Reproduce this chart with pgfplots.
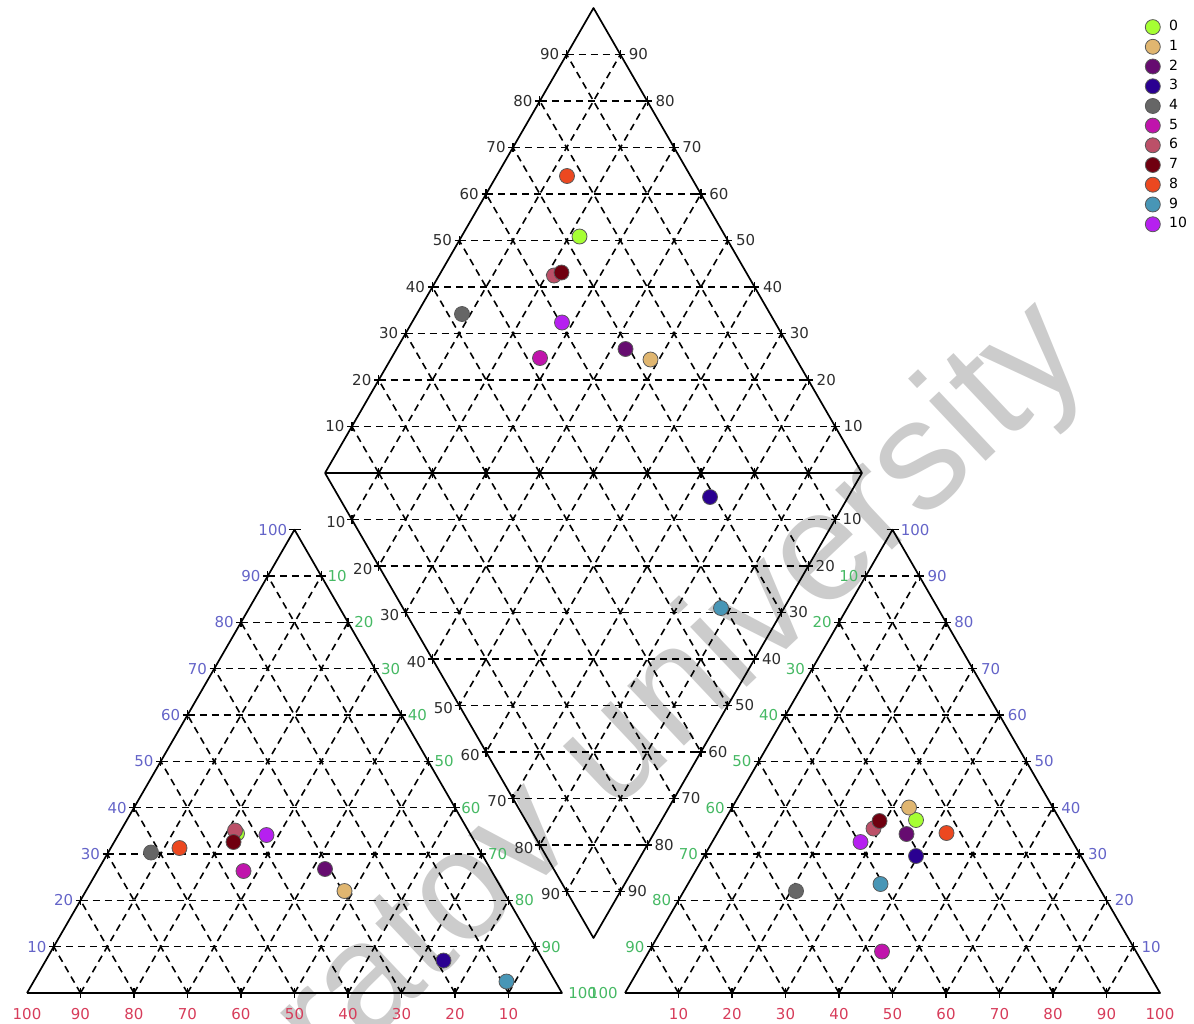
\documentclass[border=0pt]{standalone}
\usepackage{pgfplots}
\pgfplotsset{compat=1.18}
\usepackage{fontspec}
\setmainfont{DejaVu Sans}
\newfontfamily\wmfont{Liberation Sans}
\definecolor{c0}{RGB}{166,255,51}
\definecolor{c1}{RGB}{224,182,112}
\definecolor{c2}{RGB}{102,12,112}
\definecolor{c3}{RGB}{42,0,145}
\definecolor{c4}{RGB}{102,102,102}
\definecolor{c5}{RGB}{192,20,172}
\definecolor{c6}{RGB}{188,80,104}
\definecolor{c7}{RGB}{112,0,16}
\definecolor{c8}{RGB}{236,72,32}
\definecolor{c9}{RGB}{72,150,182}
\definecolor{c10}{RGB}{182,32,240}
\definecolor{lblue}{RGB}{100,100,200}
\definecolor{lred}{RGB}{215,60,90}
\definecolor{lgreen}{RGB}{70,185,100}
\definecolor{lblack}{RGB}{45,45,45}
\tikzset{
  gridl/.style={black,line width=0.8pt,dash pattern=on 3.5pt off 2.5pt},
  tickl/.style={black,line width=0.65pt},
  edge/.style={black,line width=0.85pt,line join=round},
  lab/.style={font=\fontsize{7.5}{9}\selectfont,inner sep=0pt},
}
% grid of a triangle with vertices A(#1,#2) B(#3,#4) C(#5,#6)
\newcommand\trigrid[6]{%
 \pgfplotsforeachungrouped \k in {1,2,...,9}{%
  \pgfmathsetmacro\f{\k/10}%
  \pgfmathsetmacro\qa{#1+\f*(#3-#1)}\pgfmathsetmacro\qb{#2+\f*(#4-#2)}%
  \pgfmathsetmacro\qc{#1+\f*(#5-#1)}\pgfmathsetmacro\qd{#2+\f*(#6-#2)}%
  \pgfmathsetmacro\qe{#3+\f*(#1-#3)}\pgfmathsetmacro\qf{#4+\f*(#2-#4)}%
  \pgfmathsetmacro\qg{#3+\f*(#5-#3)}\pgfmathsetmacro\qh{#4+\f*(#6-#4)}%
  \pgfmathsetmacro\qi{#5+\f*(#1-#5)}\pgfmathsetmacro\qj{#6+\f*(#2-#6)}%
  \pgfmathsetmacro\qk{#5+\f*(#3-#5)}\pgfmathsetmacro\ql{#6+\f*(#4-#6)}%
  \edef\temp{%
   \noexpand\draw[gridl] (axis cs:\qa,\qb) -- (axis cs:\qc,\qd);
   \noexpand\draw[gridl] (axis cs:\qe,\qf) -- (axis cs:\qg,\qh);
   \noexpand\draw[gridl] (axis cs:\qi,\qj) -- (axis cs:\qk,\ql);
   \noexpand\draw[tickl] (axis cs:\qa,\qb) +(-2.3pt,0) -- +(2.3pt,0) +(0,-2.3pt) -- +(0,2.3pt);
   \noexpand\draw[tickl] (axis cs:\qc,\qd) +(-2.3pt,0) -- +(2.3pt,0) +(0,-2.3pt) -- +(0,2.3pt);
   \noexpand\draw[tickl] (axis cs:\qg,\qh) +(-2.3pt,0) -- +(2.3pt,0) +(0,-2.3pt) -- +(0,2.3pt);
  }\temp
 }}
\newcommand\sidelabels[8]{% #1 x0, #2 y0, #3 dx, #4 dy, #5 kmax, #6 anchor, #7 colour, #8 xoffset
 \pgfplotsforeachungrouped \k in {1,2,...,#5}{%
  \pgfmathsetmacro\lx{#1+#3*\k+#8}\pgfmathsetmacro\ly{#2+#4*\k}%
  \pgfmathtruncatemacro\v{10*\k}%
  \edef\temp{\noexpand\node[lab,anchor=#6,text=#7] at (axis cs:\lx,\ly) {\v};}\temp
 }}
\begin{document}
\begin{tikzpicture}
\useasboundingbox (0,0) rectangle (597pt,511.5pt);
\begin{axis}[
  at={(0,0)}, anchor=south west,
  scale only axis, width=597pt, height=511.5pt,
  xmin=0, xmax=1194, ymin=0, ymax=1023, y dir=reverse,
  hide axis, clip=false,
  legend style={at={(axis cs:1143,18)}, anchor=north west, draw=none, fill=none,
    font=\fontsize{7}{8}\selectfont, row sep=1.2pt, inner sep=0pt,
    nodes={inner sep=1pt}},
  legend cell align=left,
  legend image code/.code={\path (-4.5pt,0pt) (7pt,0pt); \draw[#1] plot coordinates {(0pt,0pt)};},
  pt/.style={only marks, mark=*, mark size=3.75pt,
    mark options={draw=black!65, line width=0.4pt, fill=#1}},
]
% watermark
\node[anchor=base west, rotate=43.3, text=black!20, inner sep=0pt,
  font=\wmfont\fontsize{78}{84}\selectfont] at (axis cs:190,1212) {Saratov university};

% grids
\trigrid{27}{993}{562}{993}{294.5}{529.7}
\trigrid{625}{993}{1160}{993}{892.5}{529.7}
\trigrid{325}{473}{862}{473}{593.5}{8}
\trigrid{325}{473}{862}{473}{593.5}{938}

% frames
\addplot[edge, forget plot] coordinates {(27,993) (562,993) (294.5,529.7) (27,993)};
\addplot[edge, forget plot] coordinates {(625,993) (1160,993) (892.5,529.7) (625,993)};
\addplot[edge, forget plot] coordinates {(325,473) (593.5,8) (862,473) (593.5,938) (325,473)};
\addplot[edge, forget plot] coordinates {(325,473) (862,473)};
\draw[tickl] (axis cs:294.5,529.7) +(-3pt,0) -- +(3pt,0);
\draw[tickl] (axis cs:892.5,529.7) +(-3pt,0) -- +(3pt,0);

% labels
\pgfplotsforeachungrouped \k in {0,1,...,9}{%
  \pgfmathsetmacro\lx{27+53.5*\k}\pgfmathtruncatemacro\v{100-10*\k}%
  \edef\temp{\noexpand\node[lab,text=lred] at (axis cs:\lx,1014) {\v};}\temp}
\pgfplotsforeachungrouped \k in {1,2,...,10}{%
  \pgfmathsetmacro\lx{625+53.5*\k}\pgfmathtruncatemacro\v{10*\k}%
  \edef\temp{\noexpand\node[lab,text=lred] at (axis cs:\lx,1014) {\v};}\temp}
\sidelabels{27}{993}{26.75}{-46.33}{10}{east}{lblue}{-7}
\sidelabels{294.5}{529.7}{26.75}{46.33}{10}{west}{lgreen}{6}
\sidelabels{892.5}{529.7}{-26.75}{46.33}{10}{east}{lgreen}{-7}
\sidelabels{1160}{993}{-26.75}{-46.33}{10}{west}{lblue}{8}
\sidelabels{325}{473}{26.85}{-46.5}{9}{east}{lblack}{-7}
\sidelabels{862}{473}{-26.85}{-46.5}{9}{west}{lblack}{8}
\sidelabels{325}{476}{26.85}{46.5}{9}{east}{lblack}{-6}
\sidelabels{862}{473}{-26.85}{46.5}{9}{west}{lblack}{7}

% data: diamond, left triangle, right triangle (pixel positions)
\addplot[pt=c0] coordinates {(579.5,236.5) (237,833.5) (916,820)};
\addplot[pt=c1] coordinates {(650.5,359.5) (344.5,891) (909,807.5)};
\addplot[pt=c2] coordinates {(625.5,349) (325,869) (906.5,834)};
\addplot[pt=c3] coordinates {(710,497) (443.5,960.5) (916,856)};
\addplot[pt=c4] coordinates {(462,314) (151,852.5) (796,891)};
\addplot[pt=c5] coordinates {(540,358) (243.5,871) (882,951.5)};
\addplot[pt=c6] coordinates {(554,275.5) (235,830.5) (873.5,828.5)};
\addplot[pt=c7] coordinates {(561.5,272.5) (233.5,842) (879.5,821)};
\addplot[pt=c8] coordinates {(567,176) (179.5,848) (946.5,833)};
\addplot[pt=c9] coordinates {(721,608) (506.5,981.5) (880.5,884)};
\addplot[pt=c10] coordinates {(562,322.5) (266.5,835) (860.5,842)};
\legend{0,1,2,3,4,5,6,7,8,9,10}
\end{axis}
\end{tikzpicture}
\end{document}
